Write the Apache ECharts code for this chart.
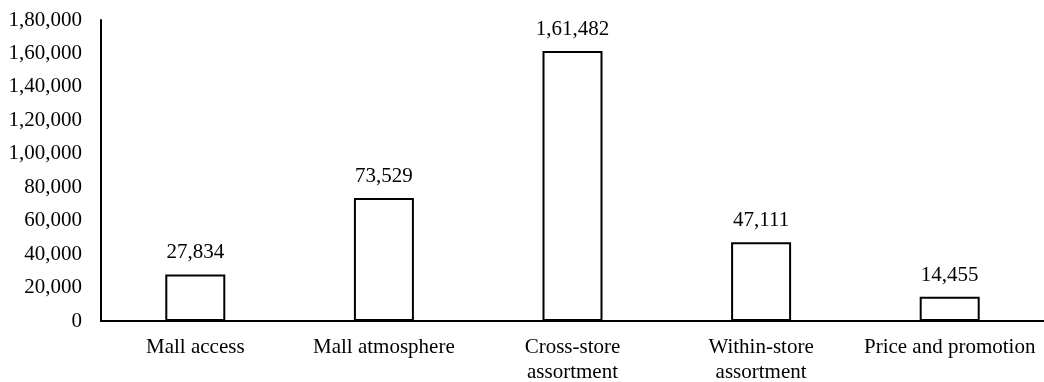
<!DOCTYPE html>
<html>
<head>
<meta charset="utf-8">
<script src="https://cdn.jsdelivr.net/npm/echarts@6/dist/echarts.min.js"></script>
<style>
  html, body { margin: 0; padding: 0; background: #fff; }
  #chart { width: 1044px; height: 382px; }
</style>
</head>
<body>
<div id="chart"></div>
<script>
// Mall attribute scores
const categories = ['Mall access', 'Mall atmosphere', 'Cross-store\nassortment', 'Within-store\nassortment', 'Price and promotion'];
const values = [27834, 73529, 161482, 47111, 14455];
const yMin = 0;
const yMax = 180000;
const yStep = 20000;

// Indian digit grouping, e.g. 1,61,482
function indianFormat(n) {
  const s = String(Math.round(n));
  if (s.length <= 3) return s;
  const last3 = s.slice(-3);
  let rest = s.slice(0, -3);
  const parts = [];
  while (rest.length > 2) {
    parts.unshift(rest.slice(-2));
    rest = rest.slice(0, -2);
  }
  if (rest.length) parts.unshift(rest);
  return parts.join(',') + ',' + last3;
}

const font = '"Liberation Serif", "Times New Roman", serif';
const chart = echarts.init(document.getElementById('chart'));
chart.setOption({
  animation: false,
  grid: { left: 101, right: 0, top: 20, bottom: 61, containLabel: false, outerBoundsMode: 'none' },
  xAxis: {
    type: 'category',
    data: categories,
    axisLine: { show: true, lineStyle: { color: '#000', width: 2 } },
    axisTick: { show: false },
    axisLabel: { color: '#000', fontFamily: font, fontSize: 21, margin: 14, lineHeight: 25, interval: 0 }
  },
  yAxis: {
    type: 'value',
    min: yMin,
    max: yMax,
    interval: yStep,
    axisLine: { show: true, lineStyle: { color: '#000', width: 2 } },
    axisTick: { show: false },
    splitLine: { show: false },
    axisLabel: { color: '#000', fontFamily: font, fontSize: 21, margin: 19, formatter: v => indianFormat(v) }
  },
  series: [{
    type: 'bar',
    data: values,
    barWidth: 60,
    itemStyle: { color: '#fff', borderColor: '#000', borderWidth: 2 },
    label: {
      show: true,
      position: 'top',
      distance: 11,
      color: '#000',
      fontFamily: font,
      fontSize: 21,
      formatter: p => indianFormat(p.value)
    }
  }]
});
</script>
</body>
</html>
